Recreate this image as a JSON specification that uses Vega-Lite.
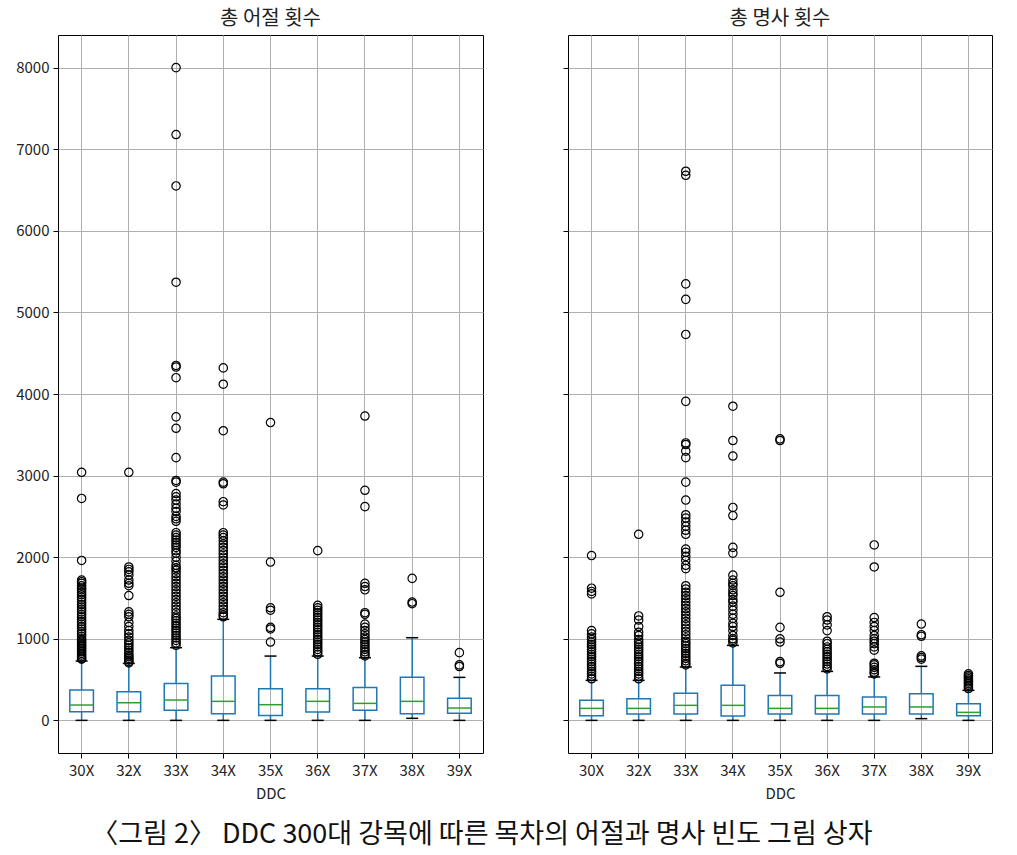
{
  "$schema": "https://vega.github.io/schema/vega-lite/v6.json",
  "padding": {"left": 15, "top": 8, "right": 20, "bottom": 2},
  "background": "white",
  "title": {"text": "〈그림 2〉 DDC 300대 강목에 따른 목차의 어절과 명사 빈도 그림 상자", "orient": "bottom", "anchor": "middle", "fontSize": 27, "font": "Noto Sans CJK KR", "fontWeight": "normal", "color": "#111", "offset": 20, "dx": -22},
  "spacing": 78,
  "config": {
    "font": "Noto Sans CJK KR",
    "view": {"stroke": "#000", "strokeWidth": 1},
    "axis": {"gridColor": "#b0b0b0", "gridWidth": 1, "gridOpacity": 1, "domain": false, "tickColor": "#000", "tickSize": 5, "labelFontSize": 15, "labelColor": "#222", "titleFontSize": 15, "titleFontWeight": "normal", "titleColor": "#222", "labelPadding": 5, "labelFont": "Noto Sans CJK KR", "titleFont": "Noto Sans CJK KR"},
    "axisY": {"grid": true, "labelPadding": 4},
    "axisX": {"grid": true, "labelAngle": 0, "bandPosition": 0.5, "titlePadding": 8},
    "title": {"fontSize": 20, "fontWeight": "normal", "font": "Noto Sans CJK KR", "color": "#222", "offset": 6}
  },
  "datasets": {
    "stats": [
      {"panel": "a", "ddc": "30X", "lo": 0, "q1": 106, "med": 188, "q3": 371, "hi": 727},
      {"panel": "a", "ddc": "32X", "lo": 0, "q1": 106, "med": 216, "q3": 351, "hi": 698},
      {"panel": "a", "ddc": "33X", "lo": 0, "q1": 123, "med": 249, "q3": 453, "hi": 891},
      {"panel": "a", "ddc": "34X", "lo": 0, "q1": 82, "med": 233, "q3": 543, "hi": 1238},
      {"panel": "a", "ddc": "35X", "lo": 0, "q1": 61, "med": 192, "q3": 388, "hi": 788},
      {"panel": "a", "ddc": "36X", "lo": 0, "q1": 102, "med": 233, "q3": 388, "hi": 788},
      {"panel": "a", "ddc": "37X", "lo": 0, "q1": 123, "med": 208, "q3": 404, "hi": 768},
      {"panel": "a", "ddc": "38X", "lo": 25, "q1": 82, "med": 233, "q3": 527, "hi": 1013},
      {"panel": "a", "ddc": "39X", "lo": 0, "q1": 86, "med": 151, "q3": 270, "hi": 527},
      {"panel": "b", "ddc": "30X", "lo": 0, "q1": 58, "med": 147, "q3": 245, "hi": 490},
      {"panel": "b", "ddc": "32X", "lo": 0, "q1": 78, "med": 147, "q3": 266, "hi": 490},
      {"panel": "b", "ddc": "33X", "lo": 0, "q1": 78, "med": 184, "q3": 331, "hi": 654},
      {"panel": "b", "ddc": "34X", "lo": 0, "q1": 54, "med": 184, "q3": 429, "hi": 919},
      {"panel": "b", "ddc": "35X", "lo": 0, "q1": 78, "med": 147, "q3": 306, "hi": 581},
      {"panel": "b", "ddc": "36X", "lo": 0, "q1": 78, "med": 147, "q3": 306, "hi": 600},
      {"panel": "b", "ddc": "37X", "lo": 0, "q1": 78, "med": 164, "q3": 287, "hi": 532},
      {"panel": "b", "ddc": "38X", "lo": 21, "q1": 78, "med": 164, "q3": 327, "hi": 662},
      {"panel": "b", "ddc": "39X", "lo": 0, "q1": 58, "med": 98, "q3": 205, "hi": 368}
    ],
    "out": [
      {"panel":"a","ddc":"30X","value":3040},{"panel":"a","ddc":"30X","value":2720},{"panel":"a","ddc":"30X","value":1960},{"panel":"a","ddc":"30X","value":1720},{"panel":"a","ddc":"30X","value":1700},{"panel":"a","ddc":"30X","value":1680},{"panel":"a","ddc":"30X","value":1650},{"panel":"a","ddc":"30X","value":1620},{"panel":"a","ddc":"30X","value":1600},{"panel":"a","ddc":"30X","value":1570},{"panel":"a","ddc":"30X","value":1540},{"panel":"a","ddc":"30X","value":1510},{"panel":"a","ddc":"30X","value":1480},{"panel":"a","ddc":"30X","value":1450},{"panel":"a","ddc":"30X","value":1420},{"panel":"a","ddc":"30X","value":1390},{"panel":"a","ddc":"30X","value":1360},{"panel":"a","ddc":"30X","value":1330},{"panel":"a","ddc":"30X","value":1300},{"panel":"a","ddc":"30X","value":1270},{"panel":"a","ddc":"30X","value":1240},{"panel":"a","ddc":"30X","value":1210},{"panel":"a","ddc":"30X","value":1180},{"panel":"a","ddc":"30X","value":1150},{"panel":"a","ddc":"30X","value":1120},{"panel":"a","ddc":"30X","value":1090},{"panel":"a","ddc":"30X","value":1060},{"panel":"a","ddc":"30X","value":1030},{"panel":"a","ddc":"30X","value":1000},{"panel":"a","ddc":"30X","value":980},{"panel":"a","ddc":"30X","value":960},{"panel":"a","ddc":"30X","value":940},{"panel":"a","ddc":"30X","value":920},{"panel":"a","ddc":"30X","value":900},{"panel":"a","ddc":"30X","value":880},{"panel":"a","ddc":"30X","value":860},{"panel":"a","ddc":"30X","value":840},{"panel":"a","ddc":"30X","value":820},{"panel":"a","ddc":"30X","value":800},{"panel":"a","ddc":"30X","value":780},{"panel":"a","ddc":"30X","value":760},{"panel":"a","ddc":"30X","value":750},
      {"panel":"a","ddc":"32X","value":3040},{"panel":"a","ddc":"32X","value":1880},{"panel":"a","ddc":"32X","value":1850},{"panel":"a","ddc":"32X","value":1820},{"panel":"a","ddc":"32X","value":1780},{"panel":"a","ddc":"32X","value":1720},{"panel":"a","ddc":"32X","value":1680},{"panel":"a","ddc":"32X","value":1650},{"panel":"a","ddc":"32X","value":1530},{"panel":"a","ddc":"32X","value":1330},{"panel":"a","ddc":"32X","value":1300},{"panel":"a","ddc":"32X","value":1270},{"panel":"a","ddc":"32X","value":1200},{"panel":"a","ddc":"32X","value":1150},{"panel":"a","ddc":"32X","value":1100},{"panel":"a","ddc":"32X","value":1060},{"panel":"a","ddc":"32X","value":1020},{"panel":"a","ddc":"32X","value":980},{"panel":"a","ddc":"32X","value":950},{"panel":"a","ddc":"32X","value":920},{"panel":"a","ddc":"32X","value":890},{"panel":"a","ddc":"32X","value":860},{"panel":"a","ddc":"32X","value":830},{"panel":"a","ddc":"32X","value":800},{"panel":"a","ddc":"32X","value":780},{"panel":"a","ddc":"32X","value":760},{"panel":"a","ddc":"32X","value":740},{"panel":"a","ddc":"32X","value":720},{"panel":"a","ddc":"32X","value":705},
      {"panel":"a","ddc":"33X","value":8000},{"panel":"a","ddc":"33X","value":7180},{"panel":"a","ddc":"33X","value":6550},{"panel":"a","ddc":"33X","value":5370},{"panel":"a","ddc":"33X","value":4350},{"panel":"a","ddc":"33X","value":4330},{"panel":"a","ddc":"33X","value":4200},{"panel":"a","ddc":"33X","value":3720},{"panel":"a","ddc":"33X","value":3580},{"panel":"a","ddc":"33X","value":3220},{"panel":"a","ddc":"33X","value":2940},{"panel":"a","ddc":"33X","value":2920},{"panel":"a","ddc":"33X","value":2780},{"panel":"a","ddc":"33X","value":2740},{"panel":"a","ddc":"33X","value":2700},{"panel":"a","ddc":"33X","value":2650},{"panel":"a","ddc":"33X","value":2600},{"panel":"a","ddc":"33X","value":2560},{"panel":"a","ddc":"33X","value":2500},{"panel":"a","ddc":"33X","value":2470},{"panel":"a","ddc":"33X","value":2440},{"panel":"a","ddc":"33X","value":2300},{"panel":"a","ddc":"33X","value":2270},{"panel":"a","ddc":"33X","value":2240},{"panel":"a","ddc":"33X","value":2210},{"panel":"a","ddc":"33X","value":2180},{"panel":"a","ddc":"33X","value":2150},{"panel":"a","ddc":"33X","value":2120},{"panel":"a","ddc":"33X","value":2080},{"panel":"a","ddc":"33X","value":2050},{"panel":"a","ddc":"33X","value":2000},{"panel":"a","ddc":"33X","value":1950},{"panel":"a","ddc":"33X","value":1900},{"panel":"a","ddc":"33X","value":1870},{"panel":"a","ddc":"33X","value":1840},{"panel":"a","ddc":"33X","value":1800},{"panel":"a","ddc":"33X","value":1760},{"panel":"a","ddc":"33X","value":1720},{"panel":"a","ddc":"33X","value":1680},{"panel":"a","ddc":"33X","value":1640},{"panel":"a","ddc":"33X","value":1600},{"panel":"a","ddc":"33X","value":1560},{"panel":"a","ddc":"33X","value":1520},{"panel":"a","ddc":"33X","value":1480},{"panel":"a","ddc":"33X","value":1440},{"panel":"a","ddc":"33X","value":1400},{"panel":"a","ddc":"33X","value":1360},{"panel":"a","ddc":"33X","value":1320},{"panel":"a","ddc":"33X","value":1280},{"panel":"a","ddc":"33X","value":1250},{"panel":"a","ddc":"33X","value":1220},{"panel":"a","ddc":"33X","value":1190},{"panel":"a","ddc":"33X","value":1160},{"panel":"a","ddc":"33X","value":1130},{"panel":"a","ddc":"33X","value":1100},{"panel":"a","ddc":"33X","value":1070},{"panel":"a","ddc":"33X","value":1040},{"panel":"a","ddc":"33X","value":1010},{"panel":"a","ddc":"33X","value":980},{"panel":"a","ddc":"33X","value":950},{"panel":"a","ddc":"33X","value":920},
      {"panel":"a","ddc":"34X","value":4320},{"panel":"a","ddc":"34X","value":4120},{"panel":"a","ddc":"34X","value":3550},{"panel":"a","ddc":"34X","value":2920},{"panel":"a","ddc":"34X","value":2900},{"panel":"a","ddc":"34X","value":2680},{"panel":"a","ddc":"34X","value":2640},{"panel":"a","ddc":"34X","value":2300},{"panel":"a","ddc":"34X","value":2270},{"panel":"a","ddc":"34X","value":2240},{"panel":"a","ddc":"34X","value":2200},{"panel":"a","ddc":"34X","value":2160},{"panel":"a","ddc":"34X","value":2120},{"panel":"a","ddc":"34X","value":2080},{"panel":"a","ddc":"34X","value":2040},{"panel":"a","ddc":"34X","value":2000},{"panel":"a","ddc":"34X","value":1960},{"panel":"a","ddc":"34X","value":1920},{"panel":"a","ddc":"34X","value":1880},{"panel":"a","ddc":"34X","value":1840},{"panel":"a","ddc":"34X","value":1800},{"panel":"a","ddc":"34X","value":1760},{"panel":"a","ddc":"34X","value":1720},{"panel":"a","ddc":"34X","value":1680},{"panel":"a","ddc":"34X","value":1640},{"panel":"a","ddc":"34X","value":1600},{"panel":"a","ddc":"34X","value":1560},{"panel":"a","ddc":"34X","value":1520},{"panel":"a","ddc":"34X","value":1480},{"panel":"a","ddc":"34X","value":1440},{"panel":"a","ddc":"34X","value":1400},{"panel":"a","ddc":"34X","value":1360},{"panel":"a","ddc":"34X","value":1320},{"panel":"a","ddc":"34X","value":1290},{"panel":"a","ddc":"34X","value":1270},
      {"panel":"a","ddc":"35X","value":3650},{"panel":"a","ddc":"35X","value":1940},{"panel":"a","ddc":"35X","value":1380},{"panel":"a","ddc":"35X","value":1350},{"panel":"a","ddc":"35X","value":1140},{"panel":"a","ddc":"35X","value":1120},{"panel":"a","ddc":"35X","value":960},
      {"panel":"a","ddc":"36X","value":2080},{"panel":"a","ddc":"36X","value":1410},{"panel":"a","ddc":"36X","value":1380},{"panel":"a","ddc":"36X","value":1350},{"panel":"a","ddc":"36X","value":1320},{"panel":"a","ddc":"36X","value":1290},{"panel":"a","ddc":"36X","value":1260},{"panel":"a","ddc":"36X","value":1230},{"panel":"a","ddc":"36X","value":1200},{"panel":"a","ddc":"36X","value":1170},{"panel":"a","ddc":"36X","value":1140},{"panel":"a","ddc":"36X","value":1110},{"panel":"a","ddc":"36X","value":1080},{"panel":"a","ddc":"36X","value":1050},{"panel":"a","ddc":"36X","value":1020},{"panel":"a","ddc":"36X","value":990},{"panel":"a","ddc":"36X","value":960},{"panel":"a","ddc":"36X","value":930},{"panel":"a","ddc":"36X","value":900},{"panel":"a","ddc":"36X","value":870},{"panel":"a","ddc":"36X","value":840},{"panel":"a","ddc":"36X","value":810},
      {"panel":"a","ddc":"37X","value":3730},{"panel":"a","ddc":"37X","value":2820},{"panel":"a","ddc":"37X","value":2620},{"panel":"a","ddc":"37X","value":1680},{"panel":"a","ddc":"37X","value":1640},{"panel":"a","ddc":"37X","value":1600},{"panel":"a","ddc":"37X","value":1320},{"panel":"a","ddc":"37X","value":1300},{"panel":"a","ddc":"37X","value":1180},{"panel":"a","ddc":"37X","value":1140},{"panel":"a","ddc":"37X","value":1100},{"panel":"a","ddc":"37X","value":1060},{"panel":"a","ddc":"37X","value":1020},{"panel":"a","ddc":"37X","value":990},{"panel":"a","ddc":"37X","value":960},{"panel":"a","ddc":"37X","value":930},{"panel":"a","ddc":"37X","value":900},{"panel":"a","ddc":"37X","value":870},{"panel":"a","ddc":"37X","value":840},{"panel":"a","ddc":"37X","value":810},{"panel":"a","ddc":"37X","value":790},
      {"panel":"a","ddc":"38X","value":1740},{"panel":"a","ddc":"38X","value":1450},{"panel":"a","ddc":"38X","value":1430},
      {"panel":"a","ddc":"39X","value":830},{"panel":"a","ddc":"39X","value":680},{"panel":"a","ddc":"39X","value":660},
      {"panel":"b","ddc":"30X","value":2020},{"panel":"b","ddc":"30X","value":1620},{"panel":"b","ddc":"30X","value":1580},{"panel":"b","ddc":"30X","value":1550},{"panel":"b","ddc":"30X","value":1100},{"panel":"b","ddc":"30X","value":1060},{"panel":"b","ddc":"30X","value":1020},{"panel":"b","ddc":"30X","value":990},{"panel":"b","ddc":"30X","value":960},{"panel":"b","ddc":"30X","value":930},{"panel":"b","ddc":"30X","value":900},{"panel":"b","ddc":"30X","value":870},{"panel":"b","ddc":"30X","value":840},{"panel":"b","ddc":"30X","value":810},{"panel":"b","ddc":"30X","value":780},{"panel":"b","ddc":"30X","value":750},{"panel":"b","ddc":"30X","value":720},{"panel":"b","ddc":"30X","value":690},{"panel":"b","ddc":"30X","value":660},{"panel":"b","ddc":"30X","value":630},{"panel":"b","ddc":"30X","value":600},{"panel":"b","ddc":"30X","value":570},{"panel":"b","ddc":"30X","value":540},{"panel":"b","ddc":"30X","value":510},
      {"panel":"b","ddc":"32X","value":2280},{"panel":"b","ddc":"32X","value":1280},{"panel":"b","ddc":"32X","value":1230},{"panel":"b","ddc":"32X","value":1150},{"panel":"b","ddc":"32X","value":1080},{"panel":"b","ddc":"32X","value":1040},{"panel":"b","ddc":"32X","value":990},{"panel":"b","ddc":"32X","value":960},{"panel":"b","ddc":"32X","value":930},{"panel":"b","ddc":"32X","value":900},{"panel":"b","ddc":"32X","value":870},{"panel":"b","ddc":"32X","value":840},{"panel":"b","ddc":"32X","value":810},{"panel":"b","ddc":"32X","value":780},{"panel":"b","ddc":"32X","value":750},{"panel":"b","ddc":"32X","value":720},{"panel":"b","ddc":"32X","value":690},{"panel":"b","ddc":"32X","value":660},{"panel":"b","ddc":"32X","value":630},{"panel":"b","ddc":"32X","value":600},{"panel":"b","ddc":"32X","value":570},{"panel":"b","ddc":"32X","value":540},{"panel":"b","ddc":"32X","value":510},
      {"panel":"b","ddc":"33X","value":6730},{"panel":"b","ddc":"33X","value":6680},{"panel":"b","ddc":"33X","value":5350},{"panel":"b","ddc":"33X","value":5160},{"panel":"b","ddc":"33X","value":4730},{"panel":"b","ddc":"33X","value":3910},{"panel":"b","ddc":"33X","value":3400},{"panel":"b","ddc":"33X","value":3380},{"panel":"b","ddc":"33X","value":3300},{"panel":"b","ddc":"33X","value":3220},{"panel":"b","ddc":"33X","value":2920},{"panel":"b","ddc":"33X","value":2700},{"panel":"b","ddc":"33X","value":2520},{"panel":"b","ddc":"33X","value":2480},{"panel":"b","ddc":"33X","value":2430},{"panel":"b","ddc":"33X","value":2380},{"panel":"b","ddc":"33X","value":2330},{"panel":"b","ddc":"33X","value":2280},{"panel":"b","ddc":"33X","value":2100},{"panel":"b","ddc":"33X","value":2060},{"panel":"b","ddc":"33X","value":2010},{"panel":"b","ddc":"33X","value":1960},{"panel":"b","ddc":"33X","value":1900},{"panel":"b","ddc":"33X","value":1860},{"panel":"b","ddc":"33X","value":1650},{"panel":"b","ddc":"33X","value":1610},{"panel":"b","ddc":"33X","value":1570},{"panel":"b","ddc":"33X","value":1530},{"panel":"b","ddc":"33X","value":1490},{"panel":"b","ddc":"33X","value":1450},{"panel":"b","ddc":"33X","value":1410},{"panel":"b","ddc":"33X","value":1370},{"panel":"b","ddc":"33X","value":1330},{"panel":"b","ddc":"33X","value":1290},{"panel":"b","ddc":"33X","value":1250},{"panel":"b","ddc":"33X","value":1210},{"panel":"b","ddc":"33X","value":1170},{"panel":"b","ddc":"33X","value":1130},{"panel":"b","ddc":"33X","value":1090},{"panel":"b","ddc":"33X","value":1050},{"panel":"b","ddc":"33X","value":1010},{"panel":"b","ddc":"33X","value":970},{"panel":"b","ddc":"33X","value":940},{"panel":"b","ddc":"33X","value":910},{"panel":"b","ddc":"33X","value":880},{"panel":"b","ddc":"33X","value":850},{"panel":"b","ddc":"33X","value":820},{"panel":"b","ddc":"33X","value":790},{"panel":"b","ddc":"33X","value":760},{"panel":"b","ddc":"33X","value":730},{"panel":"b","ddc":"33X","value":700},{"panel":"b","ddc":"33X","value":680},
      {"panel":"b","ddc":"34X","value":3850},{"panel":"b","ddc":"34X","value":3430},{"panel":"b","ddc":"34X","value":3240},{"panel":"b","ddc":"34X","value":2610},{"panel":"b","ddc":"34X","value":2510},{"panel":"b","ddc":"34X","value":2120},{"panel":"b","ddc":"34X","value":2050},{"panel":"b","ddc":"34X","value":1780},{"panel":"b","ddc":"34X","value":1720},{"panel":"b","ddc":"34X","value":1680},{"panel":"b","ddc":"34X","value":1650},{"panel":"b","ddc":"34X","value":1600},{"panel":"b","ddc":"34X","value":1560},{"panel":"b","ddc":"34X","value":1530},{"panel":"b","ddc":"34X","value":1480},{"panel":"b","ddc":"34X","value":1450},{"panel":"b","ddc":"34X","value":1400},{"panel":"b","ddc":"34X","value":1350},{"panel":"b","ddc":"34X","value":1300},{"panel":"b","ddc":"34X","value":1250},{"panel":"b","ddc":"34X","value":1190},{"panel":"b","ddc":"34X","value":1150},{"panel":"b","ddc":"34X","value":1100},{"panel":"b","ddc":"34X","value":1040},{"panel":"b","ddc":"34X","value":1000},{"panel":"b","ddc":"34X","value":980},{"panel":"b","ddc":"34X","value":950},
      {"panel":"b","ddc":"35X","value":3450},{"panel":"b","ddc":"35X","value":3430},{"panel":"b","ddc":"35X","value":1570},{"panel":"b","ddc":"35X","value":1140},{"panel":"b","ddc":"35X","value":1000},{"panel":"b","ddc":"35X","value":960},{"panel":"b","ddc":"35X","value":720},{"panel":"b","ddc":"35X","value":700},
      {"panel":"b","ddc":"36X","value":1270},{"panel":"b","ddc":"36X","value":1230},{"panel":"b","ddc":"36X","value":1170},{"panel":"b","ddc":"36X","value":1100},{"panel":"b","ddc":"36X","value":970},{"panel":"b","ddc":"36X","value":940},{"panel":"b","ddc":"36X","value":900},{"panel":"b","ddc":"36X","value":870},{"panel":"b","ddc":"36X","value":840},{"panel":"b","ddc":"36X","value":810},{"panel":"b","ddc":"36X","value":780},{"panel":"b","ddc":"36X","value":750},{"panel":"b","ddc":"36X","value":720},{"panel":"b","ddc":"36X","value":690},{"panel":"b","ddc":"36X","value":660},{"panel":"b","ddc":"36X","value":630},
      {"panel":"b","ddc":"37X","value":2150},{"panel":"b","ddc":"37X","value":1880},{"panel":"b","ddc":"37X","value":1260},{"panel":"b","ddc":"37X","value":1200},{"panel":"b","ddc":"37X","value":1150},{"panel":"b","ddc":"37X","value":1100},{"panel":"b","ddc":"37X","value":1040},{"panel":"b","ddc":"37X","value":1000},{"panel":"b","ddc":"37X","value":970},{"panel":"b","ddc":"37X","value":940},{"panel":"b","ddc":"37X","value":900},{"panel":"b","ddc":"37X","value":860},{"panel":"b","ddc":"37X","value":700},{"panel":"b","ddc":"37X","value":680},{"panel":"b","ddc":"37X","value":650},{"panel":"b","ddc":"37X","value":620},{"panel":"b","ddc":"37X","value":590},{"panel":"b","ddc":"37X","value":570},
      {"panel":"b","ddc":"38X","value":1180},{"panel":"b","ddc":"38X","value":1050},{"panel":"b","ddc":"38X","value":1030},{"panel":"b","ddc":"38X","value":790},{"panel":"b","ddc":"38X","value":770},{"panel":"b","ddc":"38X","value":750},
      {"panel":"b","ddc":"39X","value":570},{"panel":"b","ddc":"39X","value":550},{"panel":"b","ddc":"39X","value":530},{"panel":"b","ddc":"39X","value":510},{"panel":"b","ddc":"39X","value":490},{"panel":"b","ddc":"39X","value":470},{"panel":"b","ddc":"39X","value":450},{"panel":"b","ddc":"39X","value":430},{"panel":"b","ddc":"39X","value":410},{"panel":"b","ddc":"39X","value":390}
    ]
  },
  "hconcat": [
    {
      "title": "총 어절 횟수",
      "width": 425,
      "height": 718,
      "encoding": {
        "x": {"field": "ddc", "type": "nominal", "title": "DDC", "scale": {"domain": ["30X","32X","33X","34X","35X","36X","37X","38X","39X"], "paddingInner": 0, "paddingOuter": 0}}
      },
      "layer": [
        {"data": {"name": "stats"}, "transform": [{"filter": "datum.panel === 'a'"}], "mark": {"type": "rule", "color": "#1f77b4", "strokeWidth": 1.5}, "encoding": {"y": {"field": "q3", "type": "quantitative", "title": null, "axis": {"values": [0,1000,2000,3000,4000,5000,6000,7000,8000], "format": "d"}, "scale": {"domain": [-400, 8400], "nice": false, "zero": false}}, "y2": {"field": "hi"}}},
        {"data": {"name": "stats"}, "transform": [{"filter": "datum.panel === 'a'"}], "mark": {"type": "rule", "color": "#1f77b4", "strokeWidth": 1.5}, "encoding": {"y": {"field": "lo", "type": "quantitative", "title": null, "axis": {"values": [0,1000,2000,3000,4000,5000,6000,7000,8000], "format": "d"}, "scale": {"domain": [-400, 8400], "nice": false, "zero": false}}, "y2": {"field": "q1"}}},
        {"data": {"name": "stats"}, "transform": [{"filter": "datum.panel === 'a'"}], "mark": {"type": "bar", "width": {"band": 0.5}, "fill": "white", "fillOpacity": 0, "stroke": "#1f77b4", "strokeWidth": 1.5}, "encoding": {"y": {"field": "q1", "type": "quantitative", "title": null, "axis": {"values": [0,1000,2000,3000,4000,5000,6000,7000,8000], "format": "d"}, "scale": {"domain": [-400, 8400], "nice": false, "zero": false}}, "y2": {"field": "q3"}}},
        {"data": {"name": "stats"}, "transform": [{"filter": "datum.panel === 'a'"}], "mark": {"type": "tick", "orient": "horizontal", "size": 23, "thickness": 1.5, "color": "#2ca02c", "opacity": 1}, "encoding": {"y": {"field": "med", "type": "quantitative", "title": null, "axis": {"values": [0,1000,2000,3000,4000,5000,6000,7000,8000], "format": "d"}, "scale": {"domain": [-400, 8400], "nice": false, "zero": false}}}},
        {"data": {"name": "stats"}, "transform": [{"filter": "datum.panel === 'a'"}], "mark": {"type": "tick", "orient": "horizontal", "size": 12, "thickness": 1.5, "color": "#000", "opacity": 1}, "encoding": {"y": {"field": "hi", "type": "quantitative", "title": null, "axis": {"values": [0,1000,2000,3000,4000,5000,6000,7000,8000], "format": "d"}, "scale": {"domain": [-400, 8400], "nice": false, "zero": false}}}},
        {"data": {"name": "stats"}, "transform": [{"filter": "datum.panel === 'a'"}], "mark": {"type": "tick", "orient": "horizontal", "size": 12, "thickness": 1.5, "color": "#000", "opacity": 1}, "encoding": {"y": {"field": "lo", "type": "quantitative", "title": null, "axis": {"values": [0,1000,2000,3000,4000,5000,6000,7000,8000], "format": "d"}, "scale": {"domain": [-400, 8400], "nice": false, "zero": false}}}},
        {"data": {"name": "out"}, "transform": [{"filter": "datum.panel === 'a'"}], "mark": {"type": "point", "shape": "circle", "filled": false, "stroke": "#000", "strokeWidth": 1.2, "size": 70, "opacity": 1}, "encoding": {"y": {"field": "value", "type": "quantitative", "title": null, "axis": {"values": [0,1000,2000,3000,4000,5000,6000,7000,8000], "format": "d"}, "scale": {"domain": [-400, 8400], "nice": false, "zero": false}}}}
      ]
    },
    {
      "title": "총 명사 횟수",
      "width": 424,
      "height": 718,
      "encoding": {
        "x": {"field": "ddc", "type": "nominal", "title": "DDC", "scale": {"domain": ["30X","32X","33X","34X","35X","36X","37X","38X","39X"], "paddingInner": 0, "paddingOuter": 0}}
      },
      "layer": [
        {"data": {"name": "stats"}, "transform": [{"filter": "datum.panel === 'b'"}], "mark": {"type": "rule", "color": "#1f77b4", "strokeWidth": 1.5}, "encoding": {"y": {"field": "q3", "type": "quantitative", "title": null, "axis": {"labels": false, "values": [0,1000,2000,3000,4000,5000,6000,7000,8000]}, "scale": {"domain": [-400, 8400], "nice": false, "zero": false}}, "y2": {"field": "hi"}}},
        {"data": {"name": "stats"}, "transform": [{"filter": "datum.panel === 'b'"}], "mark": {"type": "rule", "color": "#1f77b4", "strokeWidth": 1.5}, "encoding": {"y": {"field": "lo", "type": "quantitative", "title": null, "axis": {"labels": false, "values": [0,1000,2000,3000,4000,5000,6000,7000,8000]}, "scale": {"domain": [-400, 8400], "nice": false, "zero": false}}, "y2": {"field": "q1"}}},
        {"data": {"name": "stats"}, "transform": [{"filter": "datum.panel === 'b'"}], "mark": {"type": "bar", "width": {"band": 0.5}, "fill": "white", "fillOpacity": 0, "stroke": "#1f77b4", "strokeWidth": 1.5}, "encoding": {"y": {"field": "q1", "type": "quantitative", "title": null, "axis": {"labels": false, "values": [0,1000,2000,3000,4000,5000,6000,7000,8000]}, "scale": {"domain": [-400, 8400], "nice": false, "zero": false}}, "y2": {"field": "q3"}}},
        {"data": {"name": "stats"}, "transform": [{"filter": "datum.panel === 'b'"}], "mark": {"type": "tick", "orient": "horizontal", "size": 23, "thickness": 1.5, "color": "#2ca02c", "opacity": 1}, "encoding": {"y": {"field": "med", "type": "quantitative", "title": null, "axis": {"labels": false, "values": [0,1000,2000,3000,4000,5000,6000,7000,8000]}, "scale": {"domain": [-400, 8400], "nice": false, "zero": false}}}},
        {"data": {"name": "stats"}, "transform": [{"filter": "datum.panel === 'b'"}], "mark": {"type": "tick", "orient": "horizontal", "size": 12, "thickness": 1.5, "color": "#000", "opacity": 1}, "encoding": {"y": {"field": "hi", "type": "quantitative", "title": null, "axis": {"labels": false, "values": [0,1000,2000,3000,4000,5000,6000,7000,8000]}, "scale": {"domain": [-400, 8400], "nice": false, "zero": false}}}},
        {"data": {"name": "stats"}, "transform": [{"filter": "datum.panel === 'b'"}], "mark": {"type": "tick", "orient": "horizontal", "size": 12, "thickness": 1.5, "color": "#000", "opacity": 1}, "encoding": {"y": {"field": "lo", "type": "quantitative", "title": null, "axis": {"labels": false, "values": [0,1000,2000,3000,4000,5000,6000,7000,8000]}, "scale": {"domain": [-400, 8400], "nice": false, "zero": false}}}},
        {"data": {"name": "out"}, "transform": [{"filter": "datum.panel === 'b'"}], "mark": {"type": "point", "shape": "circle", "filled": false, "stroke": "#000", "strokeWidth": 1.2, "size": 70, "opacity": 1}, "encoding": {"y": {"field": "value", "type": "quantitative", "title": null, "axis": {"labels": false, "values": [0,1000,2000,3000,4000,5000,6000,7000,8000]}, "scale": {"domain": [-400, 8400], "nice": false, "zero": false}}}}
      ]
    }
  ]
}
